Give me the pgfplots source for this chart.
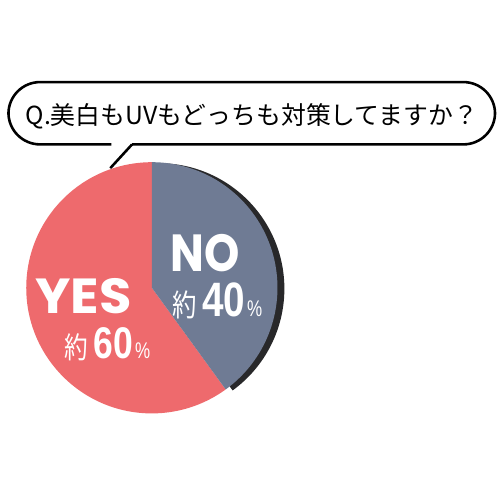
\documentclass[border=0pt]{standalone}
\usepackage{fontspec}
\usepackage{graphicx}
\usepackage{pgfplots}
\usepackage{pgfplotstable}
\pgfplotsset{compat=1.18}
\setmainfont{Liberation Sans}
\newfontfamily\cjk{Noto Sans CJK JP}
\newfontfamily\headfont{Poppins}
\definecolor{yescol}{RGB}{238,106,109}
\definecolor{nocol}{RGB}{111,123,148}
\definecolor{shadowcol}{RGB}{40,40,42}

\pgfplotstableread{
label value
YES   60
NO    40
}\piedata

% label pieces: 約 + number + %
\newcommand\approxlabel[4]{% #1 size of 約, #2 gap, #3 number size, #4 number
  \scalebox{0.8}[1]{\cjk\fontsize{#1}{#1}\selectfont 約}\hspace{#2}%
  \scalebox{0.8}[1]{\bfseries\fontsize{#3}{#3}\selectfont #4}\hspace{2bp}%
  \scalebox{0.75}[1]{\fontsize{23}{23}\selectfont\%}}

\begin{document}
\pgfplotstablegetelem{0}{value}\of\piedata
\let\yesval\pgfplotsretval
\pgfplotstablegetelem{1}{value}\of\piedata
\let\noval\pgfplotsretval
\pgfmathsetmacro\noend{90-3.6*\noval}
\pgfmathsetmacro\yesend{\noend+360}
\begin{tikzpicture}
\begin{axis}[
    x=1bp, y=1bp,
    xmin=0, xmax=500, ymin=0, ymax=500,
    hide axis, clip=false,
]
% page background
\fill[white] (axis cs:0,0) rectangle (axis cs:500,500);

% speech bubble
\draw[line width=2.6bp, rounded corners=32bp]
    (axis cs:107,354) -- (axis cs:3,354) -- (axis cs:3,417)
    -- (axis cs:495,417) -- (axis cs:495,354) -- (axis cs:128,354);
\draw[line width=2.6bp] (axis cs:128,354) -- (axis cs:106,330);
\node[anchor=center, inner sep=0] at (axis cs:249,382)
    {\cjk\fontsize{25.2}{25.2}\selectfont Q.美白もUVもどっちも対策してますか？};

% pie: shadow, YES, NO
\fill[shadowcol] (axis cs:155,208) -- ++(90:127bp)
    arc[start angle=90, end angle=\noend, radius=127bp] -- cycle;
\fill[yescol] (axis cs:148,209) -- ++(90:127bp)
    arc[start angle=90, end angle=\yesend, radius=127bp] -- cycle;
\fill[nocol] (axis cs:148,209) -- ++(90:127bp)
    arc[start angle=90, end angle=\noend, radius=127bp] -- cycle;

% labels
\node[anchor=base west, inner sep=0, text=white] at (axis cs:167,225)
    {\scalebox{0.86}[1]{\headfont\bfseries\fontsize{53}{53}\selectfont NO}};
\node[anchor=base west, inner sep=0, text=white] at (axis cs:169,180)
    {\approxlabel{31}{5bp}{49}{\noval}};

\node[anchor=base west, inner sep=0, text=white] at (axis cs:30,183)
    {\scalebox{1.07}[1]{\headfont\bfseries\fontsize{50}{50}\selectfont YES}};
\node[anchor=base west, inner sep=0, text=white] at (axis cs:59,138)
    {\approxlabel{30}{6bp}{45}{\yesval}};
\end{axis}
\pgfresetboundingbox
\path (current axis.south west) rectangle (current axis.north east);
\end{tikzpicture}
\end{document}
